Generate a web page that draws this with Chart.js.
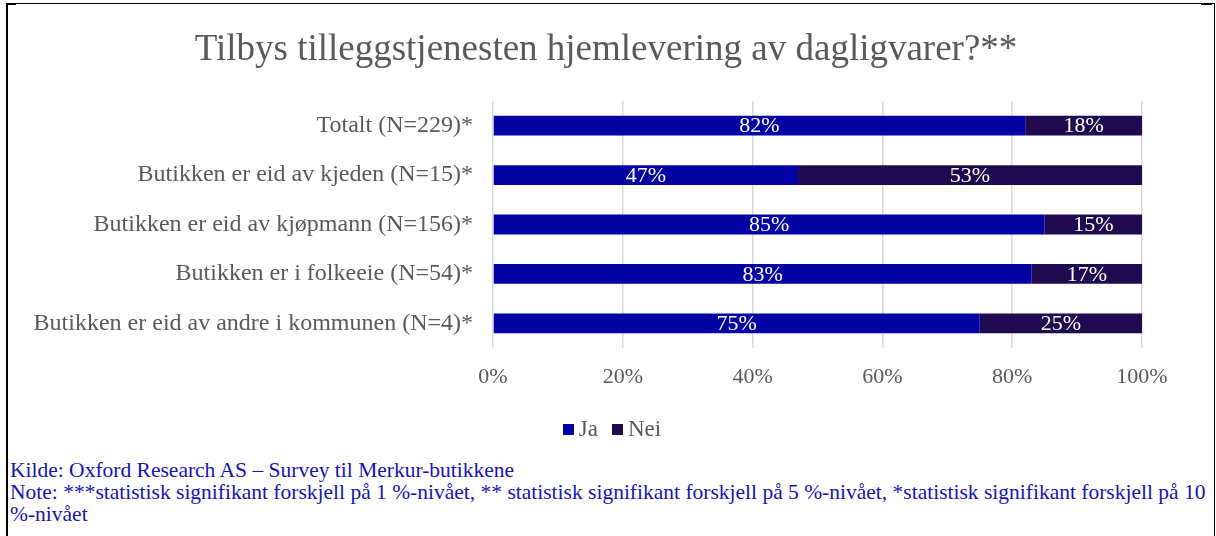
<!DOCTYPE html>
<html>
<head>
<meta charset="utf-8">
<script src="https://cdn.jsdelivr.net/npm/chart.js@4.4.1/dist/chart.umd.min.js"></script>
<style>
  html, body { margin: 0; padding: 0; background: #fff; }
  body { width: 1216px; height: 536px; position: relative; overflow: hidden; font-family: "Liberation Serif", "Times New Roman", serif; }
  .line { position: absolute; background: #000; }
  #wrap { position: absolute; left: 0; top: 0; width: 1216px; height: 450px; }
  #title { position: absolute; left: 0; width: 1212px; top: 26px; text-align: center; color: #595959; font-size: 37px; line-height: 44px; white-space: nowrap; }
  #legend { position: absolute; left: 0; width: 1224px; top: 416px; text-align: center; color: #595959; font-size: 23px; line-height: 26px; white-space: nowrap; }
  #legend .item { display: inline-block; margin: 0 7px; }
  #legend .box { display: inline-block; width: 11px; height: 11px; margin-right: 5px; vertical-align: 1px; }
  .note { position: absolute; left: 10px; color: #1414b4; font-size: 21.5px; line-height: 22px; white-space: nowrap; }
</style>
</head>
<body>
<div class="line" style="left:6px;top:3px;width:1209px;height:1px"></div>
<div class="line" style="left:6px;top:3px;width:10px;height:2px"></div>
<div class="line" style="left:1201px;top:3px;width:11px;height:2px"></div>
<div class="line" style="left:6px;top:3px;width:2px;height:533px"></div>
<div class="line" style="left:1214px;top:3px;width:1px;height:533px"></div>
<div id="wrap"><canvas id="c" width="1216" height="450"></canvas></div>
<div id="title">Tilbys tilleggstjenesten hjemlevering av dagligvarer?**</div>
<div id="legend"></div>
<div class="note" style="top:459px">Kilde: Oxford Research AS – Survey til Merkur-butikkene</div>
<div class="note" style="top:481px">Note: ***statistisk signifikant forskjell på 1 %-nivået, ** statistisk signifikant forskjell på 5 %-nivået, *statistisk signifikant forskjell på 10<br>%-nivået</div>
<script>
const categories = [
  "Totalt (N=229)*",
  "Butikken er eid av kjeden (N=15)*",
  "Butikken er eid av kjøpmann (N=156)*",
  "Butikken er i folkeeie (N=54)*",
  "Butikken er eid av andre i kommunen (N=4)*"
];
const seriesNames = ["Ja", "Nei"];
const jaValues  = [82, 47, 85, 83, 75];
const neiValues = [18, 53, 15, 17, 25];
const xTicks = [0, 20, 40, 60, 80, 100];
const seriesColors = ["#0303a3", "#1f0a4f"];

const serif = "'Liberation Serif', 'Times New Roman', serif";
const grey = "#595959";

// White percentage labels centred in each bar segment
const segmentLabels = {
  id: 'segmentLabels',
  afterDatasetsDraw(chart) {
    const ctx = chart.ctx;
    ctx.save();
    ctx.fillStyle = '#ffffff';
    ctx.font = "22px " + serif;
    ctx.textAlign = 'center';
    ctx.textBaseline = 'middle';
    chart.data.datasets.forEach((ds, di) => {
      chart.getDatasetMeta(di).data.forEach((bar, i) => {
        const p = bar.getProps(['x', 'base', 'y'], true);
        ctx.fillText(ds.data[i] + '%', (p.x + p.base) / 2, p.y + 1);
      });
    });
    ctx.restore();
  }
};

const chart = new Chart(document.getElementById('c'), {
  type: 'bar',
  data: {
    labels: categories,
    datasets: [
      { label: seriesNames[0], data: jaValues,  backgroundColor: seriesColors[0], borderWidth: 0 },
      { label: seriesNames[1], data: neiValues, backgroundColor: seriesColors[1], borderWidth: 0 }
    ]
  },
  options: {
    indexAxis: 'y',
    responsive: false,
    animation: false,
    devicePixelRatio: 1,
    layout: { padding: { left: 0, right: 74, top: 101, bottom: 42 } },
    datasets: { bar: { barPercentage: 0.8, categoryPercentage: 0.5 } },
    scales: {
      x: {
        stacked: true,
        min: 0, max: 100,
        afterBuildTicks: s => { s.ticks = xTicks.map(v => ({ value: v })); },
        afterFit: s => { s.height = 60; },
        border: { display: false },
        grid: { color: '#d9d9d9', lineWidth: 1.5, drawTicks: false },
        ticks: { color: grey, font: { family: serif, size: 22 }, padding: 16, callback: v => v + '%' }
      },
      y: {
        stacked: true,
        afterFit: s => { s.width = 493; },
        border: { display: false },
        grid: { display: false, drawTicks: false },
        ticks: { color: grey, font: { family: serif, size: 24 }, padding: 20 }
      }
    },
    plugins: {
      title: { display: false },
      legend: { display: false },
      tooltip: { enabled: false }
    }
  },
  plugins: [segmentLabels]
});

// Legend entries built from the chart's datasets
const legend = document.getElementById('legend');
chart.data.datasets.forEach(ds => {
  const item = document.createElement('span');
  item.className = 'item';
  const box = document.createElement('span');
  box.className = 'box';
  box.style.background = ds.backgroundColor;
  item.appendChild(box);
  item.appendChild(document.createTextNode(ds.label));
  legend.appendChild(item);
});
</script>
</body>
</html>
